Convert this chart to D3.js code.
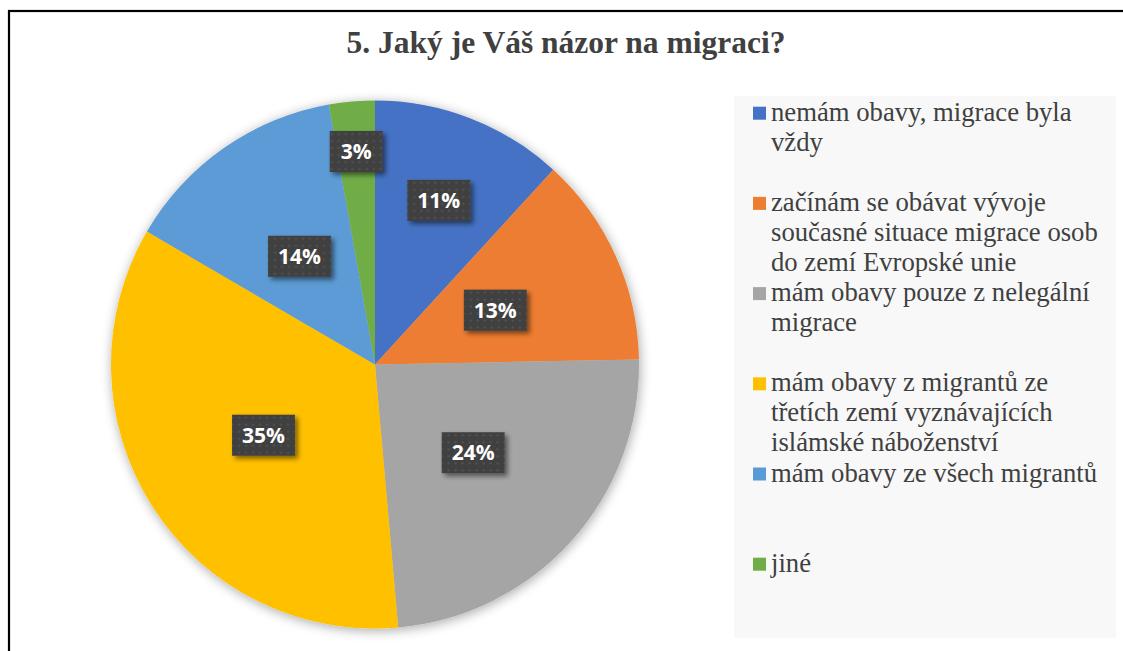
<!DOCTYPE html>
<html><head><meta charset="utf-8">
<script src="https://cdn.jsdelivr.net/npm/d3@7"></script>
<style>html,body{margin:0;padding:0;background:#fff;}svg{display:block;}</style>
</head><body>
<svg id="c" width="1123" height="651"></svg>
<script>
const categories = [
  "nemám obavy, migrace byla vždy",
  "začínám se obávat vývoje současné situace migrace osob do zemí Evropské unie",
  "mám obavy pouze z nelegální migrace",
  "mám obavy z migrantů ze třetích zemí vyznávajících islámské náboženství",
  "mám obavy ze všech migrantů",
  "jiné"
];
const legendLines = [
  ["nemám obavy, migrace byla", "vždy"],
  ["začínám se obávat vývoje", "současné situace migrace osob", "do zemí Evropské unie"],
  ["mám obavy pouze z nelegální", "migrace"],
  ["mám obavy z migrantů ze", "třetích zemí vyznávajících", "islámské náboženství"],
  ["mám obavy ze všech migrantů"],
  ["jiné"]
];
const values = [11.8, 12.9, 23.9, 34.8, 13.8, 2.8];
const valueLabels = ["11%", "13%", "24%", "35%", "14%", "3%"];
const colors = ["#4472C4", "#ED7D31", "#A5A5A5", "#FFC000", "#5B9BD5", "#70AD47"];
const title = "5. Jaký je Váš názor na migraci?";

// layout
const cx = 375, cy = 364.5, R = 264;
const labelRadiusFrac = [0.667, 0.5, 0.5, 0.5, 0.5, 0.81];

const svg = d3.select("#c");
const defs = svg.append("defs");
const f = defs.append("filter").attr("id","pieShadow").attr("x","-20%").attr("y","-20%").attr("width","140%").attr("height","140%");
f.append("feGaussianBlur").attr("in","SourceAlpha").attr("stdDeviation",6).attr("result","b");
f.append("feOffset").attr("in","b").attr("dx",1).attr("dy",2).attr("result","o");
f.append("feComponentTransfer").attr("in","o").attr("result","s").append("feFuncA").attr("type","linear").attr("slope",0.35);
const m = f.append("feMerge"); m.append("feMergeNode").attr("in","s"); m.append("feMergeNode").attr("in","SourceGraphic");

const f2 = defs.append("filter").attr("id","boxShadow").attr("x","-30%").attr("y","-30%").attr("width","160%").attr("height","160%");
f2.append("feGaussianBlur").attr("in","SourceAlpha").attr("stdDeviation",2.5).attr("result","b");
f2.append("feOffset").attr("in","b").attr("dx",3).attr("dy",3).attr("result","o");
f2.append("feComponentTransfer").attr("in","o").attr("result","s").append("feFuncA").attr("type","linear").attr("slope",0.5);
const m2 = f2.append("feMerge"); m2.append("feMergeNode").attr("in","s"); m2.append("feMergeNode").attr("in","SourceGraphic");

const pat = defs.append("pattern").attr("id","dots").attr("patternUnits","userSpaceOnUse").attr("width",7).attr("height",7);
pat.append("rect").attr("width",7).attr("height",7).attr("fill","#404040");
pat.append("circle").attr("cx",3.5).attr("cy",3.5).attr("r",1.1).attr("fill","#575757");

// frame
svg.append("rect").attr("x",9).attr("y",11).attr("width",1300).attr("height",1000)
  .attr("fill","#fff").attr("stroke","#000").attr("stroke-width",2.2);

// title
svg.append("text").attr("x",566).attr("y",53).attr("text-anchor","middle")
  .attr("font-family","'Liberation Serif','Times New Roman',serif").attr("font-weight","bold")
  .attr("font-size",31.5).attr("fill","#404040").text(title);

// pie
const pie = d3.pie().sort(null).value(d=>d);
const arcs = pie(values);
const arc = d3.arc().innerRadius(0).outerRadius(R);
const g = svg.append("g").attr("transform",`translate(${cx},${cy})`);
g.append("g").attr("filter","url(#pieShadow)").selectAll("path").data(arcs).join("path")
  .attr("d",arc).attr("fill",(d,i)=>colors[i]);

// labels
const lg = g.append("g");
arcs.forEach((d,i)=>{
  const a = d3.arc().innerRadius(R*labelRadiusFrac[i]).outerRadius(R*labelRadiusFrac[i]);
  const [x,y] = a.centroid(d);
  const w = valueLabels[i].length===2 ? 53 : 63, h = 41;
  const bg = lg.append("g").attr("transform",`translate(${x},${y})`);
  bg.append("rect").attr("x",-w/2).attr("y",-h/2).attr("width",w).attr("height",h)
    .attr("fill","url(#dots)").attr("filter","url(#boxShadow)");
  bg.append("text").attr("text-anchor","middle").attr("dy","0.36em")
    .attr("font-family","'Open Sans',sans-serif").attr("font-weight","bold")
    .attr("font-size",21).attr("fill","#fff").text(valueLabels[i]);
});

// legend
const lx = 734, ly = 96;
svg.append("rect").attr("x",lx).attr("y",ly).attr("width",382).attr("height",542).attr("fill","#F8F8F8");
const leg = svg.append("g");
legendLines.forEach((lines,i)=>{
  const base = 120.7 + i*90.2;
  leg.append("rect").attr("x",753).attr("y",base-14).attr("width",13).attr("height",13).attr("fill",colors[i]);
  const t = leg.append("text").attr("x",771).attr("y",base)
    .attr("font-family","'Liberation Serif','Times New Roman',serif")
    .attr("font-size",26.7).attr("fill","#404040");
  lines.forEach((ln,j)=>{
    t.append("tspan").attr("x",771).attr("y",base + j*30).text(ln);
  });
});
</script>
</body></html>
